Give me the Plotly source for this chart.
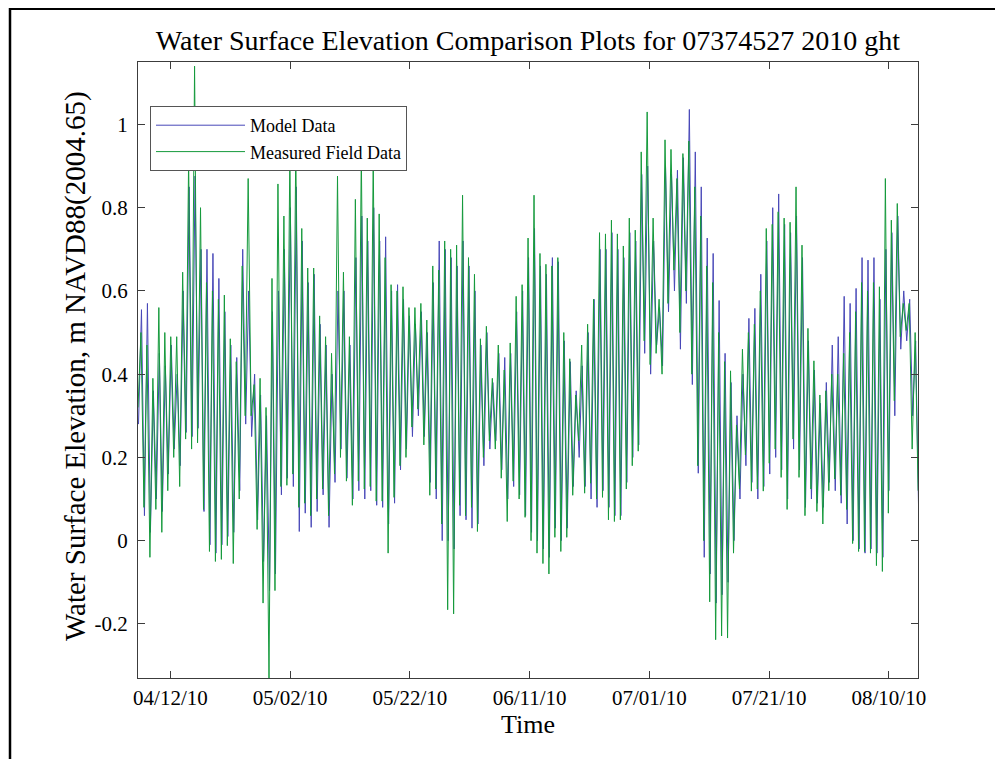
import plotly.graph_objects as go
import pandas as pd

# ---- data (alternating high/low water levels) ----
start_time = "2010-04-06 14:00"
end_time = "2010-08-14 21:30"
model_start_time = "2010-04-06 16:00"   # model series lags the gauge slightly
model_end_time = "2010-08-14 23:30"

measured = [0.32,
    0.50, 0.08, 0.47, -0.04, 0.39, 0.075, 0.56, 0.02, 0.50, 0.12, 0.49, 0.20, 0.49, 0.13, 0.645, 0.244, 0.915, 0.22, 1.14, 0.235,
    0.80, 0.075, 0.62, -0.026, 0.60, -0.05, 0.58, -0.045, 0.59, -0.012, 0.485, -0.055, 0.43, 0.10, 0.66, 0.30, 0.87, 0.30, 0.375, 0.027,
    0.39, -0.15, 0.32, -0.33,
    0.63, -0.12, 0.857, 0.13, 0.78, 0.133, 0.93, 0.16, 0.95, 0.08, 0.75, 0.09, 0.655, 0.06, 0.655, 0.10, 0.54, 0.124, 0.49, 0.06,
    0.45, 0.16, 0.876, 0.20, 0.645, 0.143, 0.49, 0.085, 0.82, 0.143, 0.93, 0.124, 0.775, 0.13, 0.92, 0.095, 0.785, 0.095, 0.68, -0.03,
    0.615, 0.104, 0.60, 0.18,
    0.61, 0.20, 0.56, 0.273, 0.56, 0.316, 0.57, 0.23, 0.53, 0.109, 0.66, 0.124, 0.65, 0.04, 0.72, -0.166, 0.70, -0.176, 0.71, 0.085,
    0.83, 0.06, 0.68, 0.08, 0.64, 0.022, 0.485, 0.20, 0.515, 0.24, 0.39, 0.22, 0.47, 0.15, 0.41, 0.046, 0.475, 0.143, 0.587, 0.10,
    0.615, 0.056, 0.727, 0.0,
    0.83, -0.03, 0.69, -0.055, 0.664, -0.08, 0.66, 0.008, 0.68, -0.026, 0.50, 0.008, 0.437, 0.109, 0.35, 0.24, 0.47, 0.114, 0.52, 0.138,
    0.58, 0.10, 0.74, 0.104, 0.737, 0.05, 0.77, 0.046, 0.737, 0.05, 0.708, 0.124, 0.775, 0.18, 0.746, 0.215, 0.934, 0.48, 1.03, 0.423,
    0.775, 0.45, 0.58, 0.40,
    0.963, 0.57, 0.94, 0.65, 0.87, 0.50, 0.93, 0.60, 0.96, 0.40, 0.85, 0.18, 0.78, 0.0, 0.66, -0.147, 0.62, -0.238, 0.50, -0.229,
    0.43, -0.234, 0.408, -0.03, 0.278, 0.124, 0.46, 0.206, 0.50, 0.119, 0.52, 0.124, 0.60, 0.119, 0.75, 0.186, 0.76, 0.22, 0.79, 0.152,
    0.775, 0.075, 0.765, 0.244,
    0.85, 0.152, 0.71, 0.06, 0.51, 0.124, 0.432, 0.07, 0.35, 0.04, 0.36, 0.12, 0.40, 0.148, 0.40, 0.109, 0.45, 0.075, 0.50, -0.007,
    0.55, -0.026, 0.62, -0.026, 0.60, -0.03, 0.62, -0.06, 0.61, -0.074, 0.87, 0.066, 0.77, 0.336, 0.81, 0.49, 0.57, 0.505, 0.57, 0.22,
    0.50, 0.12]

model = [0.28,
    0.555, 0.06, 0.57, 0.02, 0.36, 0.10, 0.45, 0.07, 0.42, 0.16, 0.47, 0.22, 0.40, 0.18, 0.60, 0.26, 0.85, 0.25, 0.876, 0.27,
    0.70, 0.07, 0.70, -0.01, 0.69, -0.03, 0.63, -0.01, 0.55, 0.01, 0.47, 0.02, 0.44, 0.12, 0.70, 0.28, 0.60, 0.25, 0.40, 0.05,
    0.35, -0.05, 0.30, -0.12,
    0.55, -0.08, 0.60, 0.11, 0.70, 0.15, 0.80, 0.13, 0.85, 0.022, 0.72, 0.066, 0.62, 0.032, 0.64, 0.07, 0.52, 0.11, 0.47, 0.032,
    0.40, 0.14, 0.60, 0.22, 0.60, 0.15, 0.47, 0.10, 0.68, 0.12, 0.78, 0.10, 0.72, 0.12, 0.80, 0.085, 0.72, 0.08, 0.73, 0.04,
    0.60, 0.09, 0.615, 0.17,
    0.58, 0.22, 0.54, 0.25, 0.52, 0.30, 0.55, 0.25, 0.50, 0.14, 0.62, 0.10, 0.72, 0.0, 0.70, 0.0, 0.68, -0.02, 0.66, 0.06,
    0.72, 0.05, 0.66, 0.03, 0.60, 0.04, 0.47, 0.18, 0.50, 0.22, 0.38, 0.24, 0.45, 0.17, 0.44, 0.10, 0.45, 0.13, 0.55, 0.11,
    0.60, 0.06, 0.68, 0.02,
    0.75, 0.0, 0.66, -0.02, 0.64, -0.04, 0.68, 0.03, 0.67, 0.0, 0.48, 0.03, 0.43, 0.13, 0.36, 0.20, 0.42, 0.13, 0.50, 0.10,
    0.58, 0.08, 0.70, 0.12, 0.70, 0.08, 0.74, 0.06, 0.70, 0.06, 0.68, 0.14, 0.74, 0.20, 0.72, 0.23, 0.88, 0.45, 0.90, 0.40,
    0.72, 0.47, 0.56, 0.42,
    0.90, 0.55, 0.88, 0.60, 0.89, 0.46, 0.92, 0.57, 1.036, 0.375, 0.934, 0.162, 0.85, -0.04, 0.727, -0.08, 0.69, -0.15, 0.577, -0.13,
    0.45, -0.10, 0.38, 0.0, 0.30, 0.10, 0.40, 0.18, 0.534, 0.14, 0.558, 0.10, 0.64, 0.13, 0.72, 0.16, 0.80, 0.20, 0.833, 0.17,
    0.76, 0.10, 0.74, 0.22,
    0.78, 0.17, 0.68, 0.08, 0.48, 0.10, 0.41, 0.09, 0.33, 0.08, 0.38, 0.14, 0.47, 0.12, 0.49, 0.09, 0.587, 0.04, 0.57, 0.0,
    0.606, -0.02, 0.68, -0.03, 0.674, -0.02, 0.68, -0.03, 0.58, -0.04, 0.70, 0.12, 0.74, 0.30, 0.78, 0.46, 0.60, 0.48, 0.58, 0.30,
    0.48, 0.07]

x_range = ["2010-04-06 14:00", "2010-08-14 21:00"]
y_range = [-0.33, 1.15]
x_tick0 = "2010-04-12"
x_tick_step_days = 20
y_tickvals = [-0.2, 0, 0.2, 0.4, 0.6, 0.8, 1.0]
y_ticktext = ["-0.2", "0", "0.2", "0.4", "0.6", "0.8", "1"]

times = pd.date_range(start_time, end_time, periods=len(measured))
model_times = pd.date_range(model_start_time, model_end_time, periods=len(model))

FONT = "Liberation Serif, Times New Roman, serif"
AXIS_COLOR = "#3c3c3c"

# page offset of the plot inside the browser body (default 8px margin)
W, H = 1003, 759
L, R, T, B = 130, 93, 54, 89
PW, PH = W - L - R, H - T - B

fig = go.Figure()
fig.add_trace(go.Scatter(x=model_times, y=model, mode="lines", name="Model Data",
                         line=dict(color="#4848b8", width=1)))
fig.add_trace(go.Scatter(x=times, y=measured, mode="lines", name="Measured Field Data",
                         line=dict(color="#159a3c", width=1)))

axis_common = dict(showgrid=False, zeroline=False, showline=True, linecolor=AXIS_COLOR,
                   linewidth=1, mirror="ticks", ticks="inside", ticklen=7,
                   tickcolor=AXIS_COLOR, tickfont=dict(size=21, color="black", family=FONT))

fig.update_layout(
    width=W, height=H,
    margin=dict(l=L, r=R, t=T, b=B, autoexpand=False),
    paper_bgcolor="white", plot_bgcolor="white",
    font=dict(family=FONT, color="black"),
    title=dict(text="Water Surface Elevation Comparison Plots for 07374527 2010 ght",
               x=0.5, xref="paper", xanchor="center",
               y=1 - 32 / H, yref="container", yanchor="middle",
               font=dict(size=28, family=FONT, color="black")),
    xaxis=dict(type="date", range=x_range, tick0=x_tick0,
               dtick=x_tick_step_days * 86400000, tickformat="%m/%d/%y",
               ticklabelstandoff=1,
               title=dict(text="Time", font=dict(size=26, family=FONT), standoff=0),
               **axis_common),
    yaxis=dict(range=y_range, tickvals=y_tickvals, ticktext=y_ticktext,
               ticklabelstandoff=5,
               **axis_common),
    legend=dict(x=(142 - L) / PW, y=1 - (98 - T) / PH, xanchor="left", yanchor="top",
                bgcolor="white", bordercolor="#555555", borderwidth=1,
                font=dict(size=18, family=FONT, color="black"),
                itemwidth=89),
    showlegend=True,
)

# y-axis title placed as in the original figure
fig.add_annotation(text="Water Surface Elevation, m NAVD88(2004.65)",
                   xref="paper", yref="paper",
                   x=(68 - L) / PW, y=1 - (358 - T) / PH,
                   xanchor="center", yanchor="middle", textangle=-90, showarrow=False,
                   font=dict(size=29, family=FONT, color="black"))

# outer frame of the original figure (left and top edges)
fig.add_shape(type="line", xref="paper", yref="paper",
              x0=(2 - L) / PW, x1=(2 - L) / PW, y0=1 + T / PH, y1=-B / PH,
              line=dict(color="black", width=2.5))
fig.add_shape(type="line", xref="paper", yref="paper",
              x0=(2 - L) / PW, x1=(994 - L) / PW, y0=1 + (T - 1) / PH, y1=1 + (T - 1) / PH,
              line=dict(color="black", width=2))

fig.write_html("out.html")
